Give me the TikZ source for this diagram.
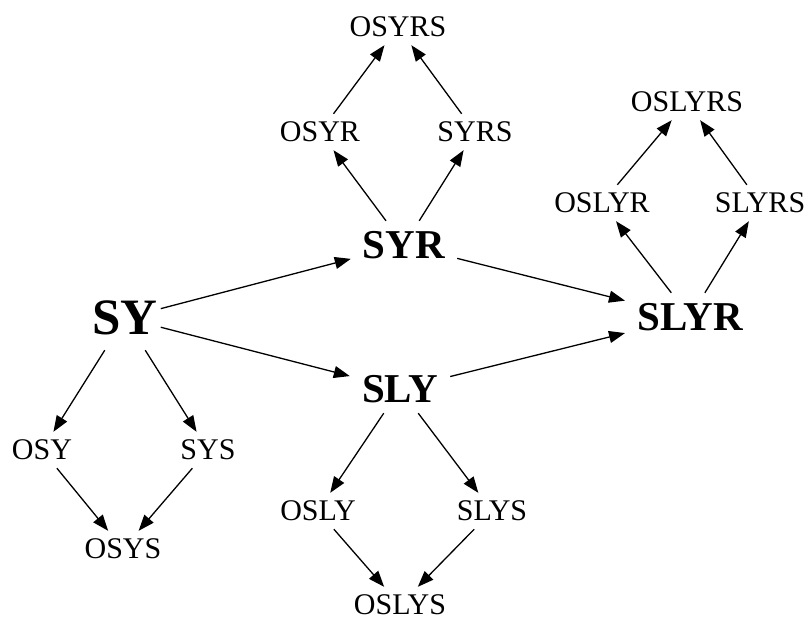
\documentclass[tikz,border=0pt]{standalone}
\usepackage{fontspec}
\setmainfont{Liberation Serif}
\usetikzlibrary{arrows.meta}

\begin{document}
\begin{tikzpicture}[
x = 1pt, y = -1pt,
every node/.style = {font = \fontsize{30}{36}\selectfont, inner xsep = 6pt, inner ysep = 0pt, minimum height = 36pt},
  big/.style = {font = \bfseries\fontsize{51}{60}\selectfont, inner xsep = 3pt, minimum height = 64pt},
  mid/.style = {font = \bfseries\fontsize{41}{49}\selectfont, inner xsep = 12pt, minimum height = 48pt},
  every edge/.style = {draw, line width = 1.3pt, -{Triangle[length = 16pt, width = 12pt]}}
]
\useasboundingbox (0,0) rectangle (808,619);
% main chain
\node[big] (sy) at (125,318) {SY};
\node[mid] (syr) at (404,245) {SYR};
\node[mid] (sly) at (400,389) {SLY};
\node[mid] (slyr) at (690,317) {SLYR};
% diamonds
\node (osyrs) at (398,27) {OSYRS};
\node (osyr) at (320,132) {OSYR};
\node (syrs) at (475,132) {SYRS};
\node (oslyrs) at (687,102) {OSLYRS};
\node (oslyr) at (602,203) {OSLYR};
\node (slyrs) at (760,203) {SLYRS};
\node (osy) at (42,450) {OSY};
\node (sys) at (208,450) {SYS};
\node (osys) at (123,549) {OSYS};
\node (osly) at (318,511) {OSLY};
\node (slys) at (492,511) {SLYS};
\node (oslys) at (400,605) {OSLYS};

\path (sy) edge (syr) edge (sly) edge (osy) edge (sys);
\path (syr) edge (slyr) edge (osyr) edge (syrs);
\path (sly) edge (slyr) edge (osly) edge (slys);
\path (slyr) edge (oslyr) edge (slyrs);
\path (osyr) edge (osyrs) (syrs) edge (osyrs);
\path (oslyr) edge (oslyrs) (slyrs) edge (oslyrs);
\path (osy) edge (osys) (sys) edge (osys);
\path (osly) edge (oslys) (slys) edge (oslys);
\end{tikzpicture}
\end{document}
